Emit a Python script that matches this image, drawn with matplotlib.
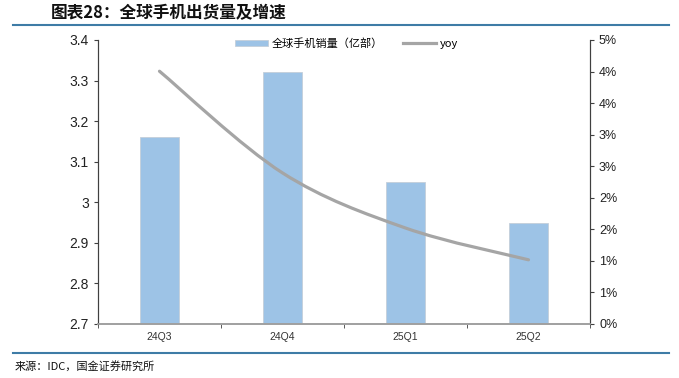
import matplotlib
matplotlib.use("Agg")
import matplotlib.pyplot as plt
from matplotlib.path import Path
from matplotlib.patches import PathPatch, Patch
from matplotlib.lines import Line2D
import matplotlib.ticker as mticker
import numpy as np

plt.rcParams['font.family'] = ['Liberation Sans', 'Noto Sans CJK SC', 'DejaVu Sans']

quarters = ['24Q3', '24Q4', '25Q1', '25Q2']
shipments = [3.16, 3.32, 3.05, 2.95]      # 亿部
yoy = [4.45, 2.66, 1.69, 1.13]            # %

bar_color = '#9DC3E6'
line_color = '#A5A5A5'
rule_color = '#3E7CA6'
cjk = ['Noto Sans CJK SC', 'DejaVu Sans']

fig = plt.figure(figsize=(6.79, 3.78), dpi=100)
ax = fig.add_axes([0.1443, 0.1429, 0.7246, 0.7513])
ax2 = ax.twinx()

x = np.arange(len(quarters))
ax.bar(x, shipments, width=0.31, color=bar_color, edgecolor='#C4CFDA', linewidth=0.6, zorder=2)
ax.set_ylim(2.7, 3.4)
ax.set_xlim(-0.5, len(quarters) - 0.5)
ax.set_yticks(np.arange(2.7, 3.41, 0.1))
ax.yaxis.set_major_formatter(mticker.FuncFormatter(lambda v, p: '3' if abs(v - 3) < 1e-6 else f'{v:.1f}'))
ax.set_xticks(x)
ax.set_xticklabels(quarters, fontsize=7.5, color='#333333')
ax.set_xticks(np.arange(-0.5, len(quarters), 1.0), minor=True)
ax.tick_params(axis='x', which='major', length=0, pad=6)
ax.tick_params(axis='x', which='minor', length=3, color='#404040', direction='out')
ax.tick_params(axis='y', labelsize=10, length=3, color='#404040', labelcolor='#222222')

# smoothed yoy line (Excel style), bezier control points from the data
pts = np.column_stack([x, yoy]).astype(float)
ext = np.vstack([pts[0], pts, pts[-1]])
verts = [tuple(pts[0])]
codes = [Path.MOVETO]
for i in range(len(pts) - 1):
    p0, p1, p2, p3 = ext[i], ext[i + 1], ext[i + 2], ext[i + 3]
    c1 = p1 + (p2 - p0) / 6.0
    c2 = p2 - (p3 - p1) / 6.0
    verts += [tuple(c1), tuple(c2), tuple(p2)]
    codes += [Path.CURVE4] * 3
ax2.add_patch(PathPatch(Path(verts, codes), facecolor='none', edgecolor=line_color,
                        linewidth=2.3, capstyle='round', zorder=3))
ax2.set_ylim(0, 5)
ax2.set_yticks(np.linspace(0, 5, 10))
ax2.yaxis.set_major_formatter(mticker.FuncFormatter(lambda v, p: f'{v:.0f}%'))
ax2.tick_params(axis='y', labelsize=9, length=3, color='#404040', labelcolor='#222222')

for a in (ax, ax2):
    a.spines['top'].set_visible(False)
    a.spines['left'].set_color('#404040')
    a.spines['right'].set_color('#404040')
    a.spines['bottom'].set_color('#A0A0A0')
    a.spines['bottom'].set_linewidth(1.2)

handles = [Patch(facecolor=bar_color, edgecolor='#C4CFDA', linewidth=0.6),
           Line2D([0], [0], color=line_color, linewidth=2.3)]
fig.legend(handles, ['全球手机销量（亿部）', 'yoy'], loc='center', bbox_to_anchor=(0.51, 0.885),
           ncol=2, frameon=False, handlelength=3.0, handleheight=0.5,
           columnspacing=1.8, handletextpad=0.3, prop={'family': cjk, 'size': 8})

fig.text(0.075, 0.965, '图表28：全球手机出货量及增速', fontsize=12, fontweight='bold',
         family=cjk, va='center', ha='left', color='#111111')
fig.add_artist(Line2D([0.019, 0.985], [0.933, 0.933], color=rule_color, linewidth=1.5))
fig.add_artist(Line2D([0.019, 0.985], [0.067, 0.067], color=rule_color, linewidth=1.5))
fig.text(0.022, 0.032, '来源：IDC，国金证券研究所', fontsize=8, family=cjk,
         va='center', ha='left', color='#111111')

fig.savefig('out.png', dpi=100)
